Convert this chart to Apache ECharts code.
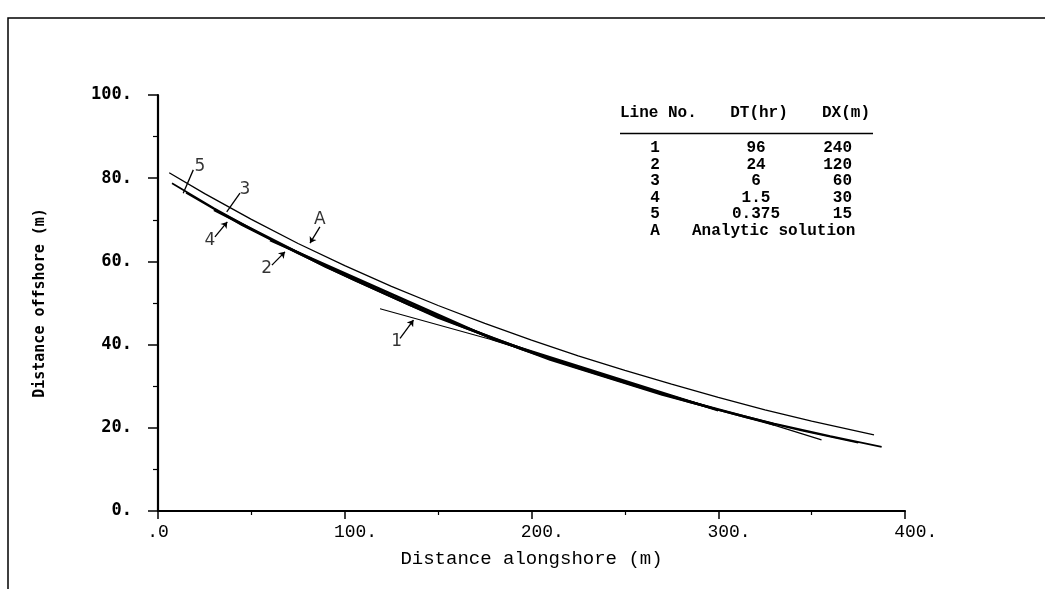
<!DOCTYPE html>
<html lang="en">
<head>
<meta charset="UTF-8">
<title>Shoreline position</title>
<script src="https://cdn.jsdelivr.net/npm/echarts@6/dist/echarts.min.js"></script>
<style>html,body{margin:0;padding:0;background:#fff;}</style>
</head>
<body>
<div id="main" style="width:1045px;height:589px;"></div>
<script>
// shoreline position: [alongshore m, offshore m]
var lineA = [[6,81.3],[25,76.3],[50,70.1],[75,64.3],[100,59.0],[125,54.0],[150,49.4],[175,45.1],[200,41.1],[225,37.3],[250,33.8],[275,30.5],[300,27.3],[325,24.3],[350,21.6],[383.4,18.3]];
var line5 = [[7.5,78.8],[30,72.8],[60,65.4],[90,59.0],[120,52.6],[150,46.8],[180,41.5],[210,36.7],[240,32.4],[270,28.3],[300,24.4],[330,21.0],[360,18.0],[387.5,15.4]];
var line4 = [[15,76.5],[45,68.7],[75,61.9],[105,55.5],[135,49.4],[165,43.9],[195,38.8],[225,34.3],[255,30.1],[285,26.1],[315,22.5],[345,19.3],[375,16.4]];
var line3 = [[30,72.4],[90,58.7],[150,46.5],[210,36.4],[270,28.0],[330,20.8]];
var line2 = [[60,65.1],[180,41.2],[300,24.2]];
var line1 = [[118.9,48.6],[177.8,41.3],[240,32.4],[300,24.4],[323,21.6],[355.3,17.1]];

// curve labels: text spot, pointer start, pointer end
var tagNames = ['5','3','4','2','A','1'];
var tagText = [[22.5,82.8],[46.6,77.2],[27.8,65.1],[58.2,58.3],[86.7,70.0],[127.8,40.7]];
var tagFrom = [[18.9,82.0],[43.9,76.4],[30.5,65.9],[61.0,59.1],[86.7,68.3],[129.6,41.5]];
var tagTo = [[13.5,76.4],[36.8,71.9],[37.1,69.5],[68.0,62.3],[81.4,64.4],[136.8,45.9]];
var tagArrow = [false,false,true,true,true,true];

// table
var tableHead = ['Line No.','DT(hr)','DX(m)'];
var lineNos = ['1','2','3','4','5','A'];
var dts = ['96','24','6','1.5','0.375'];
var dxs = ['240','120','60','30','15'];

var chart = echarts.init(document.getElementById('main'));

var mono = 'Liberation Mono';
var tfont = 'bold 16px ' + mono;
var ink = '#000';

var graphics = [
    { type:'rect', shape:{x:8, y:18, width:1100, height:700}, style:{fill:'none', stroke:ink, lineWidth:1.5}, silent:true },
    { type:'line', shape:{x1:620, y1:133.5, x2:873, y2:133.5}, style:{stroke:ink, lineWidth:1.3} },
    { type:'text', x:620, y:113, style:{text:tableHead[0], font:tfont, fill:ink, verticalAlign:'middle'} },
    { type:'text', x:759, y:113, style:{text:tableHead[1], font:tfont, fill:ink, align:'center', verticalAlign:'middle'} },
    { type:'text', x:846, y:113, style:{text:tableHead[2], font:tfont, fill:ink, align:'center', verticalAlign:'middle'} }
];
lineNos.forEach(function (n, i) {
    var y = 148 + i * 16.5;
    graphics.push({ type:'text', x:655, y:y, style:{text:n, font:tfont, fill:ink, align:'center', verticalAlign:'middle'} });
    if (i < dts.length) {
        graphics.push({ type:'text', x:756, y:y, style:{text:dts[i], font:tfont, fill:ink, align:'center', verticalAlign:'middle'} });
        graphics.push({ type:'text', x:852, y:y, style:{text:dxs[i], font:tfont, fill:ink, align:'right', verticalAlign:'middle'} });
    } else {
        graphics.push({ type:'text', x:692, y:y, style:{text:'Analytic solution', font:tfont, fill:ink, verticalAlign:'middle'} });
    }
});

function curve(name, data, w) {
    return { name:name, type:'line', data:data, showSymbol:false, smooth:false,
             lineStyle:{color:ink, width:w}, z:3 };
}

chart.setOption({
    animation: false,
    backgroundColor: '#fff',
    grid: { left:158, right:140, top:95, bottom:78 },
    xAxis: {
        type:'value', min:0, max:400, interval:100,
        name:'Distance alongshore (m)', nameLocation:'middle', nameGap:38,
        nameTextStyle:{ fontFamily:mono, fontSize:19, color:ink },
        axisLine:{ lineStyle:{ color:ink, width:2.2 } },
        axisTick:{ length:8, lineStyle:{ color:ink, width:1.5 } },
        minorTick:{ show:true, splitNumber:2, length:4, lineStyle:{ color:ink, width:1.2 } },
        splitLine:{ show:false },
        axisLabel:{ margin:12, fontFamily:mono, fontSize:18, color:ink,
                    formatter:function (v) { return v === 0 ? '.0' : '  ' + v + '.'; } }
    },
    yAxis: {
        type:'value', min:0, max:100, interval:20,
        name:'Distance offshore (m)', nameLocation:'middle', nameGap:110,
        nameTextStyle:{ fontFamily:'DejaVu Sans Mono', fontWeight:'bold', fontSize:15, color:ink },
        axisLine:{ show:true, lineStyle:{ color:ink, width:2.2 } },
        axisTick:{ show:true, length:10, lineStyle:{ color:ink, width:1.5 } },
        minorTick:{ show:true, splitNumber:2, length:5, lineStyle:{ color:ink, width:1.2 } },
        splitLine:{ show:false },
        axisLabel:{ margin:26, fontFamily:'DejaVu Sans Mono', fontWeight:'bold', fontSize:17, color:ink,
                    formatter:function (v) { return v + '.'; } }
    },
    graphic: graphics,
    series: [
        curve('A', lineA, 1.3),
        curve('5', line5, 1.7),
        curve('4', line4, 1.7),
        curve('3', line3, 2.6),
        curve('2', line2, 2.4),
        curve('1', line1, 1.1),
        {
            type:'lines', coordinateSystem:'cartesian2d', z:4,
            data: tagNames.map(function (n, i) {
                return { coords:[tagFrom[i], tagTo[i]], symbol:['none', tagArrow[i] ? 'arrow' : 'none'] };
            }),
            symbolSize:6,
            lineStyle:{ color:ink, width:1.3, opacity:1 }
        },
        {
            type:'scatter', z:5, symbolSize:1, itemStyle:{ color:'rgba(0,0,0,0)' },
            data: tagNames.map(function (n, i) { return [tagText[i][0], tagText[i][1], n]; }),
            label:{ show:true, position:'inside', formatter:function (p) { return p.data[2]; },
                    fontFamily:'DejaVu Sans', fontSize:17, color:ink, textBorderWidth:0 }
        }
    ]
});
</script>
</body>
</html>
